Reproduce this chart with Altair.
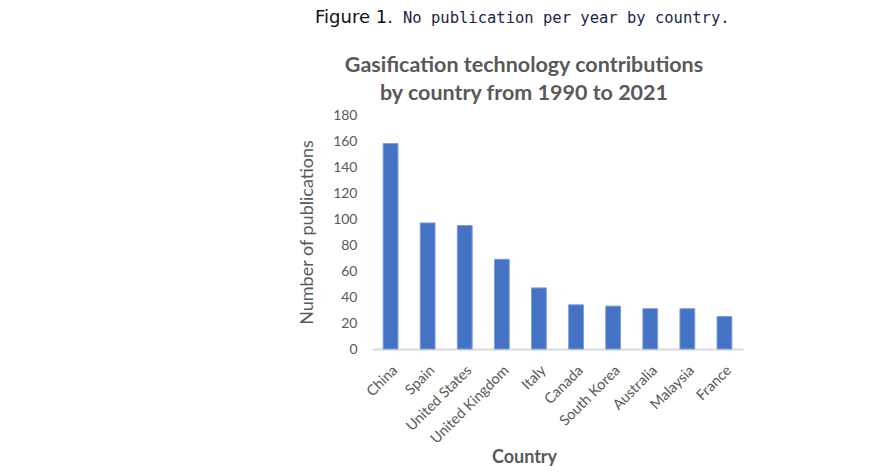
import altair as alt
import pandas as pd

countries = ["China", "Spain", "United States", "United Kingdom", "Italy",
             "Canada", "South Korea", "Australia", "Malaysia", "France"]
publications = [158, 97, 95, 69, 47, 34, 33, 31, 31, 25]

caption_bold = "Figure 1."
caption_rest = "No publication per year by country."
title_lines = ["Gasification technology contributions", "by country from 1990 to 2021"]
x_title = "Country"
y_title = "Number of publications"

df = pd.DataFrame({"country": countries, "pubs": publications})
one = pd.DataFrame({"t": [0]})

FONT = "Lato"
GRAY = "#595959"

bars = alt.Chart(df).mark_bar(color="#4472C4", stroke="#7f9fdc", strokeWidth=1).encode(
    x=alt.X("country:N", sort=countries,
            scale=alt.Scale(paddingInner=0.6, paddingOuter=0.3),
            axis=alt.Axis(title=x_title, labelAngle=-45, labelFont=FONT, labelFontSize=14.5,
                          labelColor=GRAY, labelPadding=14, ticks=False,
                          domainColor="#d9d9d9", domainWidth=2,
                          titleFont=FONT, titleFontSize=18, titleFontWeight="bold",
                          titleColor=GRAY, titleX=152, titleY=113,
                          titleAnchor="start", titleAlign="center", titleBaseline="alphabetic")),
    y=alt.Y("pubs:Q", scale=alt.Scale(domain=[0, 180]),
            axis=alt.Axis(title=y_title, values=list(range(0, 181, 20)), grid=False,
                          domain=False, ticks=False, labelFont=FONT, labelFontSize=14,
                          labelColor=GRAY, labelPadding=15,
                          titleFont=FONT, titleFontSize=18, titleFontWeight="normal",
                          titleColor=GRAY, titleX=-65, titleY=117, titleAngle=-90,
                          titleAlign="center", titleBaseline="middle")),
)

cap1 = alt.Chart(one).mark_text(font="DejaVu Sans", fontSize=18,
                                color="#111111", align="left", baseline="alphabetic").encode(
    x=alt.value(-57), y=alt.value(-92), text=alt.value(caption_bold))
cap2 = alt.Chart(one).mark_text(font="DejaVu Sans Mono", fontSize=15.5, color="#1f1f4a",
                                align="left", baseline="alphabetic").encode(
    x=alt.value(31), y=alt.value(-92), text=alt.value(caption_rest))
t1 = alt.Chart(one).mark_text(font=FONT, fontSize=21.5, fontWeight="bold", color=GRAY,
                              align="center", baseline="alphabetic").encode(
    x=alt.value(152), y=alt.value(-43), text=alt.value(title_lines[0]))
t2 = alt.Chart(one).mark_text(font=FONT, fontSize=21.5, fontWeight="bold", color=GRAY,
                              align="center", baseline="alphabetic").encode(
    x=alt.value(152), y=alt.value(-15), text=alt.value(title_lines[1]))

chart = alt.layer(bars, cap1, cap2, t1, t2).properties(
    width=371, height=234,
    background="white",
    autosize=alt.AutoSizeParams(type="none"),
    padding={"left": 364, "top": 107, "right": 138, "bottom": 117},
).configure_view(strokeWidth=0, stroke=None)

chart.save("out.html", embed_options={"renderer": "svg", "actions": False})
